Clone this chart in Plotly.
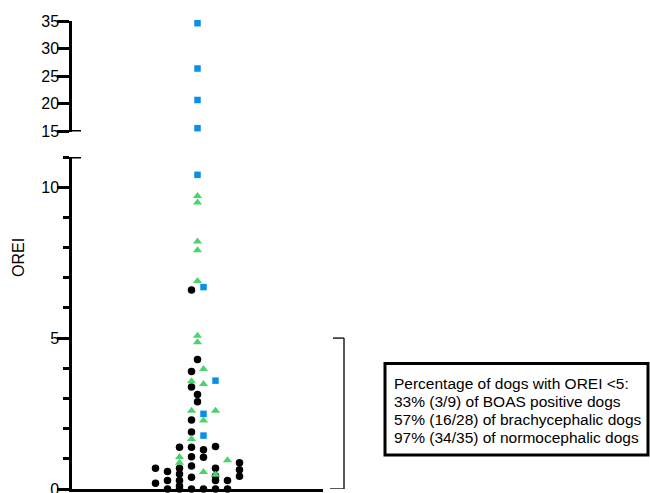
import plotly.graph_objects as go

# ---------------- data ----------------
# column offsets (dot-plot spread, in symbol columns) and OREI values
normo_col = [-3.5, -3.5,
             -2.5, -2.5, -2.5,
             -1.5, -1.5, -1.5, -1.5, -1.5, -1.5,
             -0.5, -0.5, -0.5, -0.5, -0.5, -0.5, -0.5, -0.5, -0.5, -0.5,
             0, 0, 0,
             0.5, 0.5, 0.5,
             1.5, 1.5, 1.5, 1.5, 1.5,
             2.5, 2.5,
             3.5, 3.5, 3.5]
normo_val = [0.69, 0.19,
             0.58, 0.28, 0.0,
             1.38, 0.69, 0.50, 0.28, 0.10, 0.0,
             6.59, 3.89, 3.38, 2.29, 1.89, 1.38, 1.07, 0.76, 0.39, 0.0,
             4.29, 3.13, 2.89,
             1.30, 1.05, 0.0,
             1.41, 0.69, 0.43, 0.28, 0.0,
             0.28, 0.0,
             0.87, 0.64, 0.42]

brachy_col = [0, 0, 0, 0, 0, 0, 0,
              0.5, 0.5, 0.5, 0.5,
              -0.5, -0.5, -0.5,
              1.5, 1.5,
              -1.5, -1.5,
              2.5]
brachy_val = [9.71, 9.49, 8.20, 7.91, 6.89, 5.08, 4.86,
              3.98, 3.48, 2.27, 0.56,
              3.57, 2.59, 1.66,
              2.59, 0.47,
              1.06, 0.87,
              0.95]

boas_low_col = [0, 0.5, 1.5, 0.5, 0.5]
boas_low_val = [10.41, 6.69, 3.59, 2.49, 1.77]
boas_high_col = [0, 0, 0, 0]
boas_high_val = [34.6, 26.4, 20.7, 15.6]

lower_range = [0, 11]
upper_range = [15, 35]
threshold = 5

box_lines = ["Percentage of dogs with OREI <5:",
             "33% (3/9) of BOAS positive dogs",
             "57% (16/28) of brachycephalic dogs",
             "97% (34/35) of normocephalic dogs"]
y_title = "OREI"

# ---------------- layout helpers ----------------
W, H = 650, 493
FONT = "Arial, Liberation Sans, sans-serif"
BLACK = "#000000"
GREEN = "#4cd46c"
BLUE = "#0a8fe8"


def px(xp):
    return xp / W


def py(yp):
    return (H - yp) / H


x_left, x_right = 72, 323
col_px = 12.0
half = (x_right - x_left) / 2 / col_px

fig = go.Figure()

fig.add_trace(go.Scatter(
    x=normo_col, y=normo_val, mode="markers", xaxis="x", yaxis="y",
    marker=dict(symbol="circle", size=7.5, color=BLACK, line=dict(width=0)),
    cliponaxis=False, showlegend=False, hoverinfo="y"))
fig.add_trace(go.Scatter(
    x=brachy_col, y=brachy_val, mode="markers", xaxis="x", yaxis="y",
    marker=dict(symbol="triangle-up", size=8, color=GREEN, line=dict(width=0)),
    cliponaxis=False, showlegend=False, hoverinfo="y"))
fig.add_trace(go.Scatter(
    x=boas_low_col, y=boas_low_val, mode="markers", xaxis="x", yaxis="y",
    marker=dict(symbol="square", size=6.5, color=BLUE, line=dict(width=0)),
    cliponaxis=False, showlegend=False, hoverinfo="y"))
fig.add_trace(go.Scatter(
    x=boas_high_col, y=boas_high_val, mode="markers", xaxis="x", yaxis="y2",
    marker=dict(symbol="square", size=6.5, color=BLUE, line=dict(width=0)),
    cliponaxis=False, showlegend=False, hoverinfo="y"))

tickfont = dict(family=FONT, size=16, color=BLACK)

fig.update_layout(
    template="none",
    width=W, height=H,
    margin=dict(l=0, r=0, t=0, b=0),
    paper_bgcolor="white", plot_bgcolor="rgba(0,0,0,0)",
    showlegend=False,
    xaxis=dict(domain=[px(x_left), px(x_right)], range=[-half, half],
               showline=True, linewidth=3, linecolor=BLACK,
               showgrid=False, zeroline=False, ticks="", showticklabels=False,
               anchor="y", automargin=False, fixedrange=True),
    yaxis=dict(domain=[py(489), py(157)], range=lower_range,
               showline=True, linewidth=2.5, linecolor=BLACK,
               showgrid=False, zeroline=False,
               ticks="outside", ticklen=12, tickwidth=3, tickcolor=BLACK,
               tick0=0, dtick=5, tickfont=tickfont, ticklabelstandoff=-5,
               ticklabeloverflow="allow",
               minor=dict(dtick=1, tick0=0, ticks="outside", ticklen=6,
                          tickwidth=3, tickcolor=BLACK, showgrid=False),
               anchor="x", automargin=False, fixedrange=True),
    yaxis2=dict(domain=[py(131.5), py(21)], range=upper_range,
                showline=True, linewidth=2.5, linecolor=BLACK,
                showgrid=False, zeroline=False,
                ticks="outside", ticklen=12, tickwidth=3, tickcolor=BLACK,
                tick0=15, dtick=5, tickfont=tickfont, ticklabelstandoff=-5,
                ticklabeloverflow="allow",
                anchor="x", automargin=False, fixedrange=True),
)

# axis-break caps
for yref, yv in (("y", lower_range[1]), ("y2", upper_range[0])):
    fig.add_shape(type="line", xref="paper", yref=yref,
                  x0=px(64), x1=px(81), y0=yv, y1=yv,
                  line=dict(color=BLACK, width=3))

# bracket marking OREI < 5
bx = px(344)
fig.add_shape(type="line", xref="paper", yref="y", x0=bx, x1=bx,
              y0=0, y1=threshold, line=dict(color="#222222", width=1.5))
fig.add_shape(type="line", xref="paper", yref="y", x0=px(333), x1=bx,
              y0=threshold, y1=threshold, line=dict(color="#222222", width=1.5))
fig.add_shape(type="line", xref="paper", yref="y", x0=px(330), x1=bx,
              y0=0, y1=0, line=dict(color="#222222", width=1.5))

# text box
fig.add_shape(type="rect", xref="paper", yref="paper",
              x0=px(385), x1=px(648), y0=py(455), y1=py(363.5),
              line=dict(color=BLACK, width=3), fillcolor="white", layer="below")
line_y = [383, 401.5, 419.5, 437.5]
for txt, yy in zip(box_lines, line_y):
    fig.add_annotation(text=txt, xref="paper", yref="paper",
                       x=px(392), y=py(yy), xanchor="left", yanchor="middle",
                       showarrow=False,
                       font=dict(family=FONT, size=15.5, color=BLACK))

# y-axis title
fig.add_annotation(text=y_title, xref="paper", yref="paper",
                   x=px(18), y=py(258), xanchor="center", yanchor="middle",
                   textangle=-90, showarrow=False,
                   font=dict(family=FONT, size=16, color=BLACK))

fig.write_html(
    "out.html",
    config={"displayModeBar": False},
    post_script="document.body.style.margin='0';document.body.style.overflow='hidden';",
)
